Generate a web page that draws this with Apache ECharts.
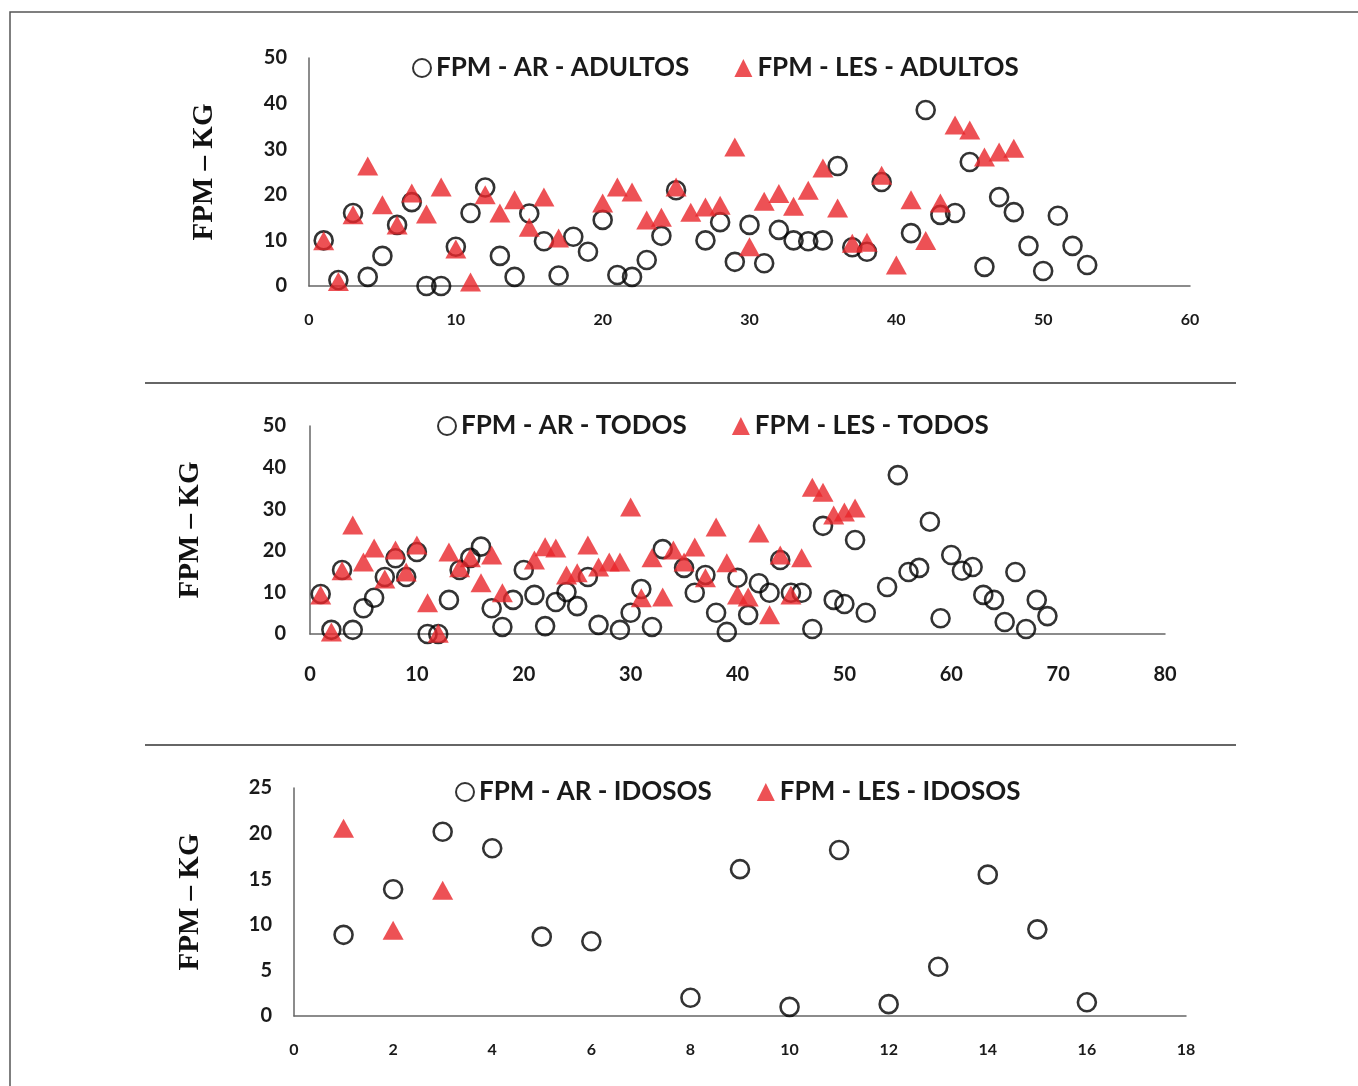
<!DOCTYPE html>
<html>
<head>
<meta charset="utf-8">
<script src="https://cdn.jsdelivr.net/npm/echarts@6/dist/echarts.min.js"></script>
<style>
html,body{margin:0;padding:0;background:#fff;}
#c{width:1358px;height:1086px;}
</style>
</head>
<body>
<div id="c"></div>
<script>
// ---- Data: [subject index, FPM kg] ----
const arAdultos = [[1,10],[2,1.3],[3,16],[4,2],[5,6.6],[6,13.4],[7,18.4],[8,0],[9,0],[10,8.6],[11,16],[12,21.6],[13,6.6],[14,2],[15,15.9],[16,9.8],[17,2.3],[18,10.8],[19,7.5],[20,14.5],[21,2.4],[22,2],[23,5.7],[24,11],[25,21],[27,10],[28,14],[29,5.3],[30,13.4],[31,5],[32,12.3],[33,10],[34,9.8],[35,10],[36,26.3],[37,8.5],[38,7.5],[39,22.8],[41,11.6],[42,38.6],[43,15.6],[44,16],[45,27.2],[46,4.2],[47,19.5],[48,16.2],[49,8.8],[50,3.3],[51,15.4],[52,8.8],[53,4.6]];
const lesAdultos = [[1,9.9],[2,1],[3,15.6],[4,26.3],[5,17.8],[6,13.4],[7,20.4],[8,15.8],[9,21.7],[10,8.1],[11,0.9],[12,20],[13,16],[14,18.9],[15,12.9],[16,19.5],[17,10.5],[20,18.2],[21,21.7],[22,20.6],[23,14.5],[24,15.1],[25,21.7],[26,16.2],[27,17.3],[28,17.7],[29,30.5],[30,8.6],[31,18.6],[32,20.3],[33,17.5],[34,21],[35,25.9],[36,17.1],[37,9.4],[38,9.6],[39,24.3],[40,4.6],[41,18.9],[42,10],[43,18.2],[44,35.3],[45,34.2],[46,28.3],[47,29.4],[48,30.2]];
const arTodos = [[1,9.6],[2,1],[3,15.4],[4,1],[5,6.2],[6,8.7],[7,13.7],[8,18.2],[9,13.7],[10,19.7],[11,0],[12,0],[13,8.2],[14,15.4],[15,18.3],[16,21],[17,6.2],[18,1.7],[19,8.2],[20,15.4],[21,9.4],[22,1.9],[23,7.7],[24,10.1],[25,6.7],[26,13.7],[27,2.2],[29,1],[30,5.1],[31,10.8],[32,1.7],[33,20.4],[35,15.9],[36,9.9],[37,14.2],[38,5.1],[39,0.5],[40,13.5],[41,4.6],[42,12.2],[43,9.9],[44,17.8],[45,9.9],[46,9.9],[47,1.2],[48,26],[49,8.2],[50,7.2],[51,22.6],[52,5.1],[54,11.3],[55,38.2],[56,14.9],[57,15.9],[58,27],[59,3.8],[60,19],[61,15.2],[62,16.1],[63,9.4],[64,8.2],[65,2.9],[66,14.9],[67,1.2],[68,8.2],[69,4.3]];
const lesTodos = [[1,9.4],[2,0.5],[3,15.2],[4,26.2],[5,17.3],[6,20.7],[7,13.2],[8,20.2],[9,14.9],[10,21.4],[11,7.5],[12,0.2],[13,19.7],[14,15.9],[15,18.3],[16,12.3],[17,19],[18,9.9],[21,17.8],[22,21],[23,20.7],[24,14.2],[25,14.7],[26,21.4],[27,16.1],[28,17.3],[29,17.3],[30,30.5],[31,8.7],[32,18.3],[33,8.9],[34,20.2],[35,17.3],[36,20.9],[37,13.5],[38,25.7],[39,17.1],[40,9.4],[41,8.9],[42,24.3],[43,4.6],[44,19],[45,9.4],[46,18.3],[47,35.3],[48,34.1],[49,28.6],[50,29.3],[51,30.3]];
const arIdosos = [[1,8.9],[2,13.9],[3,20.2],[4,18.4],[5,8.7],[6,8.2],[8,2],[9,16.1],[10,1],[11,18.2],[12,1.3],[13,5.4],[14,15.5],[15,9.5],[16,1.5]];
const lesIdosos = [[1,20.6],[2,9.4],[3,13.8]];

const seriesNames = [
  ['FPM - AR - ADULTOS','FPM - LES - ADULTOS'],
  ['FPM - AR - TODOS','FPM - LES - TODOS'],
  ['FPM - AR - IDOSOS','FPM - LES - IDOSOS']
];
const xMax = [60, 80, 18];
const xStep = [10, 10, 2];
const yMax = [50, 50, 25];
const yStep = [10, 10, 5];
const yTitle = 'FPM – KG';

// ---- Layout ----
const grids = [
  {left:309, top:58, width:881, height:228},
  {left:310, top:426, width:855, height:208},
  {left:294, top:788, width:892, height:228}
];
const legendPos = [{left:412, top:55}, {left:437, top:413}, {left:455, top:779}];
const xFont = [16, 20, 16];
const yFont = [20, 20, 20];
const xMargin = [26, 31, 26];
const yMargin = [22, 24, 22];
const nameGap = [90, 105, 89];

const txt = '#1a1a1a';
const font = 'Lato';

const arStyle = {color:'rgba(0,0,0,0)', borderColor:'#000', borderWidth:2.6};
const lesStyle = {color:'#e8262b'};

const series = [];
const datasets = [[arAdultos,lesAdultos],[arTodos,lesTodos],[arIdosos,lesIdosos]];
datasets.forEach((d,i)=>{
  series.push({type:'scatter', name:seriesNames[i][0], xAxisIndex:i, yAxisIndex:i, data:d[0], symbol:'circle', symbolSize:18, itemStyle:arStyle, z:2});
  series.push({type:'scatter', name:seriesNames[i][1], xAxisIndex:i, yAxisIndex:i, data:d[1], symbol:'triangle', symbolSize:[21,19], itemStyle:lesStyle, z:3});
});

const option = {
  backgroundColor:'#fff',
  animation:false,
  grid: grids.map(g=>Object.assign({containLabel:false}, g)),
  xAxis: grids.map((g,i)=>({
    gridIndex:i, type:'value', min:0, max:xMax[i], interval:xStep[i],
    axisLine:{show:true, onZero:false, lineStyle:{color:'#666', width:1.5}},
    axisTick:{show:false}, splitLine:{show:false},
    axisLabel:{color:txt, fontFamily:font, fontWeight:'bold', fontSize:xFont[i], margin:xMargin[i]}
  })),
  yAxis: grids.map((g,i)=>({
    gridIndex:i, type:'value', min:0, max:yMax[i], interval:yStep[i],
    axisLine:{show:true, onZero:false, lineStyle:{color:'#666', width:1.5}},
    axisTick:{show:false}, splitLine:{show:false},
    axisLabel:{color:txt, fontFamily:font, fontWeight:'bold', fontSize:yFont[i], margin:yMargin[i]},
    name:yTitle, nameLocation:'middle', nameGap:nameGap[i], nameRotate:90,
    nameTextStyle:{color:'#111', fontFamily:'Liberation Serif', fontWeight:'bold', fontSize:29}
  })),
  legend: legendPos.map((p,i)=>({
    data:seriesNames[i], left:p.left, top:p.top, padding:0, orient:'horizontal',
    itemWidth:18, itemHeight:18, itemGap:45,
    textStyle:{color:txt, fontFamily:font, fontWeight:'bold', fontSize:26, lineHeight:26}
  })),
  graphic: [
    {type:'rect', shape:{x:10, y:12, width:1400, height:1100}, style:{fill:'none', stroke:'#555', lineWidth:1.5}, silent:true},
    {type:'line', shape:{x1:145, y1:383, x2:1236, y2:383}, style:{stroke:'#333', lineWidth:1.5}, silent:true},
    {type:'line', shape:{x1:145, y1:745, x2:1236, y2:745}, style:{stroke:'#333', lineWidth:1.5}, silent:true}
  ],
  series: series
};

const chart = echarts.init(document.getElementById('c'), null, {renderer:'canvas'});
chart.setOption(option);
</script>
</body>
</html>
